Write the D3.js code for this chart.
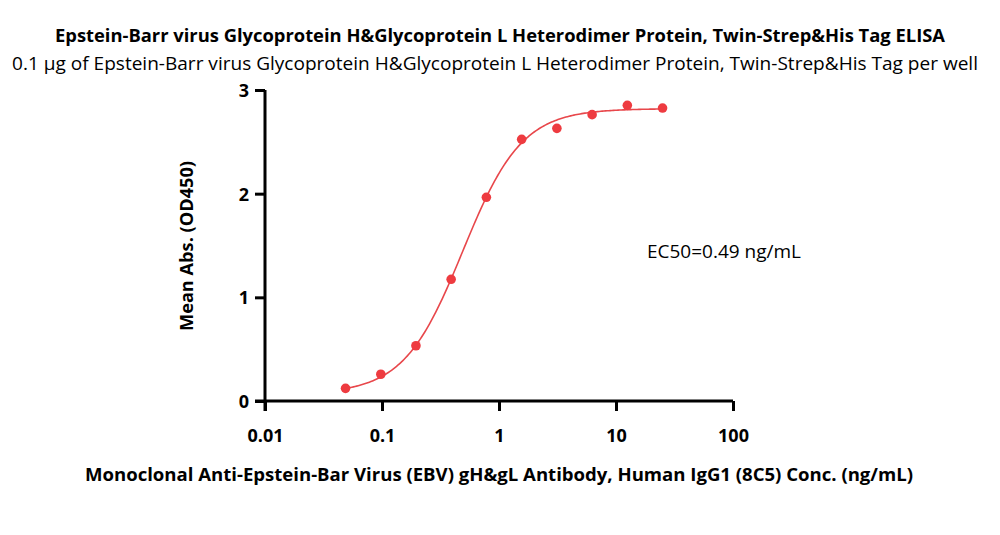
<!DOCTYPE html>
<html><head><meta charset="utf-8">
<script src="https://cdn.jsdelivr.net/npm/d3@7"></script>
<style>body{margin:0;background:#fff;} svg{display:block;}</style>
</head><body>
<svg id="c" width="1000" height="535"></svg>
<script>
const concentrations = [0.0488, 0.0977, 0.195, 0.39, 0.78, 1.5625, 3.125, 6.25, 12.5, 25];
const meanAbs = [0.122, 0.258, 0.533, 1.174, 1.965, 2.524, 2.630, 2.762, 2.852, 2.826];
// 4PL fit parameters: bottom, top, EC50, hill
const fitParams = [0.07, 2.82, 0.49, 1.72];
const xTicks = [0.01, 0.1, 1, 10, 100];
const xTickLabels = ["0.01", "0.1", "1", "10", "100"];
const yTicks = [0, 1, 2, 3];

const title = "Epstein-Barr virus Glycoprotein H&Glycoprotein L Heterodimer Protein, Twin-Strep&His Tag ELISA";
const subtitle = "0.1 \u00b5g of Epstein-Barr virus Glycoprotein H&Glycoprotein L Heterodimer Protein, Twin-Strep&His Tag per well";
const xTitle = "Monoclonal Anti-Epstein-Bar Virus (EBV) gH&gL Antibody, Human IgG1 (8C5) Conc. (ng/mL)";
const yTitle = "Mean Abs. (OD450)";
const ecLabel = "EC50=0.49 ng/mL";

(function () {
const svg = d3.select("#c");
const font = "'Open Sans', sans-serif";
const x = d3.scaleLog().domain([0.01, 100]).range([265, 733]);
const y = d3.scaleLinear().domain([0, 3]).range([401, 90]);

function txt(t, px, py, size, weight, len) {
  const e = svg.append("text").attr("x", px).attr("y", py).attr("text-anchor", "middle")
    .style("font-family", font).style("font-size", size + "px").style("font-weight", weight).text(t);
  if (len) e.attr("textLength", len).attr("lengthAdjust", "spacingAndGlyphs");
  return e;
}
txt(title, 500, 42, 18, 700, 890);
txt(subtitle, 495, 70, 18, 400, 966);
txt(xTitle, 499, 481, 18, 700, 828);

svg.append("text").attr("transform", "translate(193,246) rotate(-90)").attr("text-anchor", "middle")
  .style("font-family", font).style("font-size", "18px").style("font-weight", 700)
  .attr("textLength", 170).attr("lengthAdjust", "spacingAndGlyphs").text(yTitle);

const xAxis = d3.axisBottom(x).tickValues(xTicks).tickFormat((d, i) => xTickLabels[i]).tickSize(10).tickSizeOuter(0);
const gx = svg.append("g").attr("transform", "translate(0,401)").call(xAxis);
const yAxis = d3.axisLeft(y).tickValues(yTicks).tickFormat(d3.format("d")).tickSize(10).tickSizeOuter(0);
const gy = svg.append("g").attr("transform", "translate(265,0)").call(yAxis);
[gx, gy].forEach(g => {
  g.select(".domain").attr("stroke", "#000").attr("stroke-width", 3);
  g.selectAll(".tick line").attr("stroke", "#000").attr("stroke-width", 3);
  g.selectAll(".tick text").style("font-family", font).style("font-size", "18px").style("font-weight", 700).attr("fill", "#000");
});
gx.select(".domain").attr("d", "M255,0H733");
gy.select(".domain").attr("d", "M0,90V411");
gx.selectAll(".tick text").attr("dy", "0").attr("y", 41);
gy.selectAll(".tick text").attr("x", -16).attr("dy", "0.36em");

const [fBottom, fTop, fEc50, fHill] = fitParams;
const lo = Math.log10(concentrations[0]), hi = Math.log10(concentrations[concentrations.length - 1]);
const curve = d3.range(0, 201).map(i => {
  const c = Math.pow(10, lo + (hi - lo) * i / 200);
  return [c, fBottom + (fTop - fBottom) / (1 + Math.pow(fEc50 / c, fHill))];
});
svg.append("path").datum(curve).attr("fill", "none").attr("stroke", "#e8474b").attr("stroke-width", 1.6)
  .attr("d", d3.line().x(d => x(d[0])).y(d => y(d[1])));

svg.selectAll("circle.pt").data(concentrations).enter().append("circle").attr("class", "pt")
  .attr("cx", d => x(d)).attr("cy", (d, i) => y(meanAbs[i])).attr("r", 4.8).attr("fill", "#ee3b40");

svg.append("text").attr("x", 647).attr("y", 258).style("font-family", font).style("font-size", "18px")
  .attr("textLength", 154).attr("lengthAdjust", "spacingAndGlyphs").text(ecLabel);
})();
</script>
</body></html>
